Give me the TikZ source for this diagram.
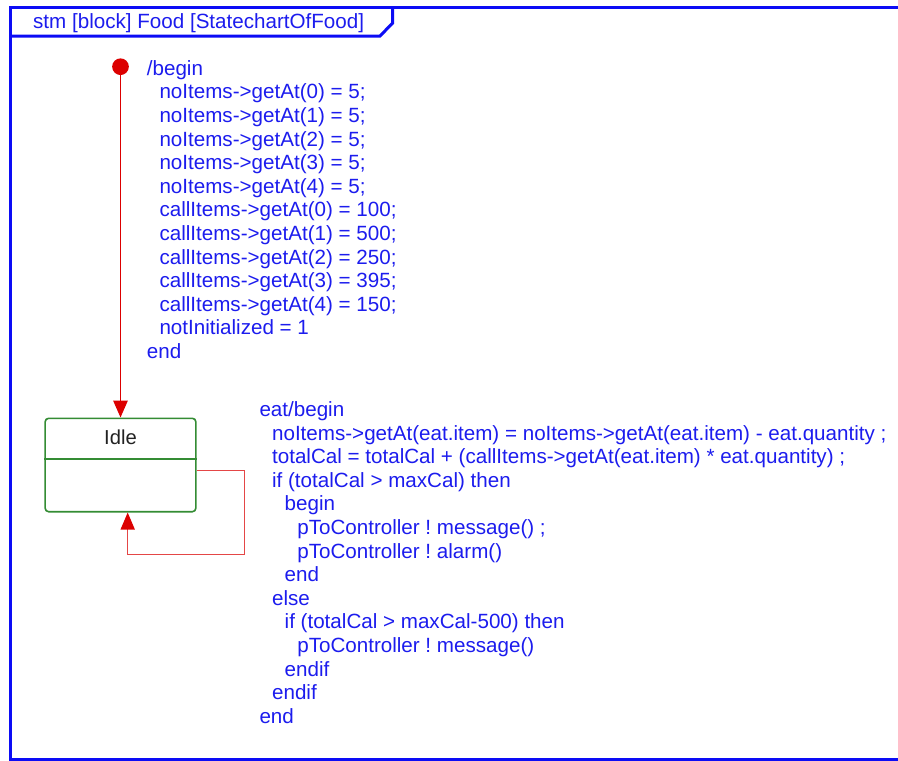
\documentclass[tikz,border=0pt]{standalone}
\usepackage{fontspec}
\setmainfont{Liberation Sans}
\usetikzlibrary{arrows.meta}
\frenchspacing

\definecolor{framblue}{RGB}{12,12,245}
\definecolor{codeblue}{RGB}{28,28,238}
\definecolor{trred}{RGB}{220,0,0}
\definecolor{loopred}{RGB}{228,70,70}
\definecolor{stategreen}{RGB}{52,140,52}
\definecolor{labelgray}{RGB}{34,34,34}

\tikzset{
  frameline/.style={draw=framblue, line width=3.5pt, line join=miter},
  code/.style={anchor=base west, inner sep=0pt, text=codeblue,
    font=\fontsize{20.6}{23.6}\selectfont},
  title/.style={anchor=base west, inner sep=0pt, text=codeblue,
    font=\fontsize{20.6}{23.6}\selectfont},
  statebox/.style={draw=stategreen, line width=1.6pt, rounded corners=3.5pt,
    minimum width=150.7pt, minimum height=93.4pt, inner sep=0pt},
  statename/.style={inner sep=0pt, text=labelgray,
    font=\fontsize{20.2}{23}\selectfont},
  initdot/.style={circle, fill=trred, minimum size=16.7pt, inner sep=0pt},
  initline/.style={draw=trred, line width=1.5pt,
    -{Triangle[length=17pt,width=14.5pt]}},
  loopline/.style={draw=loopred, line width=1.5pt,
    -{Triangle[length=17pt,width=14pt,color=trred]}},
}

\begin{document}
\begin{tikzpicture}[x=1pt,y=-1pt]
  \useasboundingbox (0,0) rectangle (898,761);
  \fill[white] (0,0) rectangle (898,761);

  % diagram frame and its name tab
  \draw[frameline] (910,7.7) -- (10.3,7.7) -- (10.3,760) -- (910,760);
  \draw[frameline, line width=3pt] (10.3,36) -- (380,36) -- (392.7,23) -- (392.7,7.7);
  \node[title] (frametitle) at (33,28.5) {stm [block] Food [StatechartOfFood]};

  % states
  \node[initdot] (init) at (120.5,66.7) {};
  \node[statebox] (idle) at (120.5,465) {};
  \draw[stategreen, line width=1.6pt] (idle.west |- 0,459) coordinate (divw)
    -- (idle.east |- 0,459) coordinate (dive);
  \node[statename] (idlename) at (120.5,437) {Idle};

  % initial transition
  \draw[initline] (init.center) -- (idle.north);

  % self transition on Idle
  \coordinate (loopa) at (244.3,470.7);
  \coordinate (loopb) at (127.7,554.3);
  \draw[loopline] (idle.east |- loopa) -- (loopa) |- (loopb) -- (loopb |- idle.south);

  % effect of the initial transition
  \foreach \ind/\txt [count=\i from 0] in {
      0/{/begin},
      1/{noItems->getAt(0) = 5;},
      1/{noItems->getAt(1) = 5;},
      1/{noItems->getAt(2) = 5;},
      1/{noItems->getAt(3) = 5;},
      1/{noItems->getAt(4) = 5;},
      1/{callItems->getAt(0) = 100;},
      1/{callItems->getAt(1) = 500;},
      1/{callItems->getAt(2) = 250;},
      1/{callItems->getAt(3) = 395;},
      1/{callItems->getAt(4) = 150;},
      1/{notInitialized = 1},
      0/{end}}
    \node[code] (initcode\i) at (146.7+\ind*12.6, 75.2+\i*23.6) {\txt};

  % effect of the eat transition
  \foreach \ind/\txt [count=\i from 0] in {
      0/{eat/begin},
      1/{noItems->getAt(eat.item) = noItems->getAt(eat.item) - eat.quantity ;},
      1/{totalCal = totalCal + (callItems->getAt(eat.item) * eat.quantity) ;},
      1/{if (totalCal > maxCal) then},
      2/{begin},
      3/{pToController ! message() ;},
      3/{pToController ! alarm()},
      2/{end},
      1/{else},
      2/{if (totalCal > maxCal-500) then},
      3/{pToController ! message()},
      2/{endif},
      1/{endif},
      0/{end}}
    \node[code] (eatcode\i) at (259.3+\ind*12.6, 416.4+\i*23.6) {\txt};
\end{tikzpicture}
\end{document}
